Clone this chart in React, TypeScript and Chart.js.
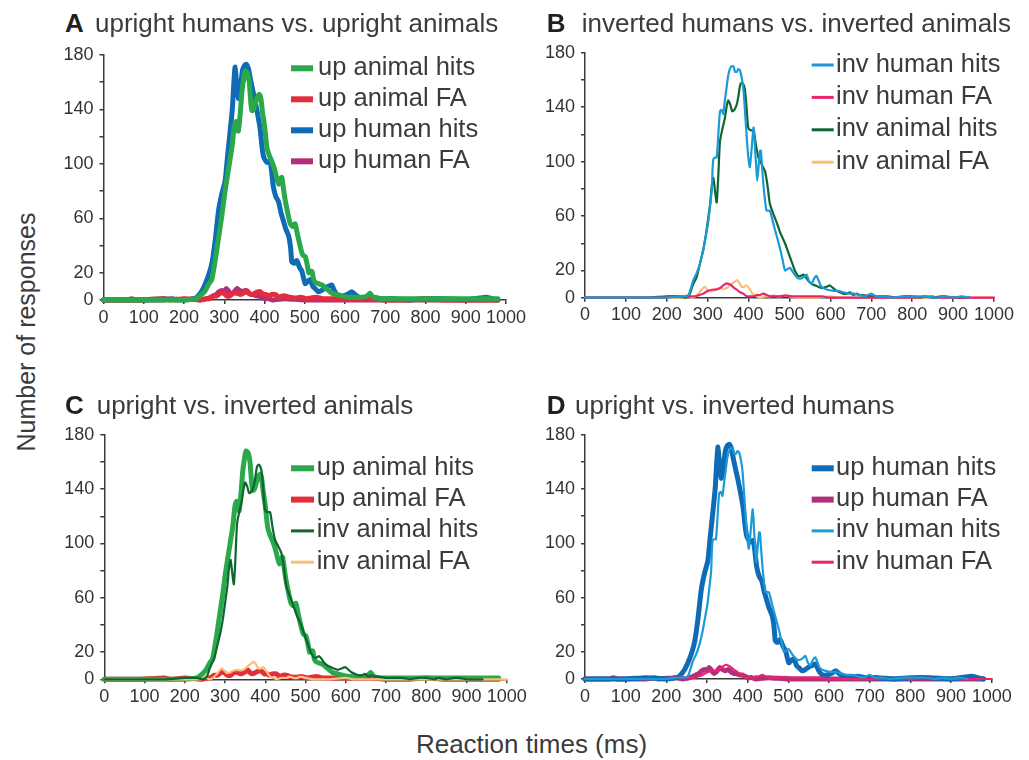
import React, { useEffect, useRef } from "react";
import { Chart, registerables } from "chart.js";

Chart.register(...registerables);

const FONT = '"Liberation Sans", Arial, Helvetica, sans-serif';

// ---------- data (reaction time in ms, number of responses) ----------
const upAnimalHitsT = [0, 100, 200, 230, 240, 253, 262, 269, 278, 286, 294, 302, 310, 319, 325, 329, 335, 340, 344, 348, 352, 357, 362, 366, 369, 373, 377, 382, 387, 391, 395, 400, 406, 412, 418, 424, 430, 435, 440, 443, 447, 451, 457, 464, 470, 476, 482, 489, 495, 501, 506, 510, 514, 518, 522, 526, 534, 543, 551, 559, 567, 580, 592, 610, 630, 642, 655, 662, 670, 690, 720, 760, 800, 850, 900, 950, 980];
const upAnimalHitsY = [0, 0, 0, 1, 3, 7, 12, 15, 30, 46, 62, 80, 95, 112, 128, 131, 124, 138, 153, 162, 168, 167, 160, 145, 139, 140, 144, 149, 151, 148, 138, 128, 112, 106, 102, 97, 90, 85, 89, 90, 82, 74, 65, 56, 54, 56, 48, 39, 33, 32, 26, 20, 21, 21, 15, 13, 12, 11, 9, 7, 5, 4, 3, 2, 2, 2, 3, 5, 2, 1, 1, 1, 1, 1, 1, 1, 1];

const upAnimalFAT = [0, 80, 150, 165, 200, 240, 255, 264, 272, 281, 290, 298, 306, 314, 322, 331, 340, 348, 356, 362, 368, 376, 383, 390, 398, 405, 410, 418, 427, 436, 445, 452, 462, 477, 490, 505, 527, 545, 570, 600, 630, 660, 700, 750, 800, 850, 900, 980];
const upAnimalFAY = [0, 0, 1, 0, 1, 0, 1, 1, 3, 3, 5, 5, 3, 3, 5, 5, 4, 5, 7, 5, 4, 5, 6, 6, 4, 4, 3, 4, 4, 2, 3, 3, 2, 1.5, 2, 1, 2, 1, 1, 1, 1, 1, 0, 0, 1, 0, 0, 0];

const upHumanHitsT = [0, 100, 150, 200, 225, 235, 245, 253, 262, 270, 278, 286, 294, 302, 308, 314, 320, 324, 327, 331, 335, 340, 345, 350, 355, 360, 365, 370, 376, 382, 389, 394, 398, 406, 414, 422, 428, 435, 441, 447, 453, 460, 465, 468, 474, 480, 487, 493, 501, 508, 514, 520, 527, 534, 542, 551, 559, 567, 575, 584, 595, 605, 617, 625, 635, 650, 670, 690, 720, 760, 800, 850, 900, 950, 965, 980];
const upHumanHitsY = [0, 0, 1, 0, 1, 3, 7, 12, 19, 28, 45, 66, 78, 87, 105, 122, 140, 160, 171, 158, 148, 155, 168, 172, 173, 170, 162, 155, 147, 138, 126, 112, 105, 101, 102, 83, 76, 72, 64, 58, 52, 47, 38, 28, 27, 29, 24, 21, 12, 14, 15, 10, 8, 6, 7, 9, 10, 11, 6, 3, 3, 4, 6, 4, 2, 1, 2, 1, 1, 0, 1, 1, 0, 2, 1, 0];

const upHumanFAT = [0, 60, 70, 80, 150, 170, 180, 225, 240, 258, 266, 273, 280, 287, 294, 300, 305, 312, 317, 325, 332, 338, 345, 352, 360, 367, 373, 380, 387, 393, 400, 410, 420, 450, 500, 980];
const upHumanFAY = [0, 0, 1, 0, 0, 1, 0, 1, 0, 1, 2, 3, 4, 6, 7, 6, 8.5, 6, 4, 6, 8.5, 7, 6, 7, 5, 4, 4, 3, 3, 2, 1, 1, 0, 1, 0, 0];

const invHumanHitsT = [0, 200, 230, 245, 253, 260, 265, 273, 281, 289, 295, 301, 306, 310, 312, 314, 318, 322, 326, 330, 334, 338, 342, 346, 350, 354, 358, 363, 367, 371, 375, 379, 383, 387, 391, 395, 399, 403, 407, 412, 414, 416, 419, 421, 424, 428, 430, 433, 436, 440, 444, 452, 460, 469, 477, 483, 489, 495, 501, 510, 518, 526, 534, 542, 548, 554, 560, 566, 572, 578, 591, 607, 620, 631, 645, 656, 670, 685, 700, 712, 730, 750, 780, 800, 830, 860, 880, 900, 920, 940];
const invHumanHitsY = [0, 0, 1, 1, 2, 8, 13, 18, 25, 35, 45, 55, 68, 79, 95, 102, 103, 103, 120, 137, 138, 135, 145, 154, 163, 168, 170, 170, 166, 166, 168, 167, 162, 154, 138, 120, 104, 96, 108, 125, 120, 108, 95, 86, 95, 108, 108, 96, 84, 72, 64, 64, 55, 45, 36, 28, 20, 21, 22, 18, 15, 14, 15, 17, 12, 10, 14, 16, 12, 8, 6, 5, 5, 4, 3, 3, 2, 1, 3, 1, 1, 0, 1, 1, 1, 0, 1, 0, 1, 0];

const invHumanFAT = [0, 200, 208, 230, 250, 270, 280, 289, 300, 314, 322, 330, 338, 346, 352, 358, 365, 371, 379, 387, 395, 403, 412, 420, 428, 436, 444, 452, 460, 470, 493, 510, 530, 560, 580, 600, 700, 800, 850, 860, 1000];
const invHumanFAY = [0, 0, 1, 1, 1, 1, 2, 3, 5, 6, 6, 7, 9, 10.5, 10, 9, 7, 6, 4, 3, 1, 1, 1, 2, 2, 3, 2, 1, 1, 1, 1.5, 1, 1, 1, 1, 0, 0, 0, 1, 0, 0];

const invAnimalHitsT = [0, 150, 200, 230, 245, 255, 262, 268, 273, 281, 289, 295, 301, 306, 310, 314, 318, 322, 326, 330, 336, 342, 346, 350, 355, 360, 365, 371, 375, 379, 383, 387, 391, 395, 399, 405, 412, 418, 424, 432, 440, 446, 452, 460, 469, 477, 483, 489, 495, 501, 507, 513, 521, 527, 534, 540, 547, 555, 563, 571, 580, 590, 599, 607, 615, 623, 631, 640, 648, 656, 664, 672, 680, 700, 720, 740, 760, 780, 800, 820, 830, 850, 870, 880, 900, 940];
const invAnimalHitsY = [0, 0, 1, 1, 0, 2, 8, 12, 15, 25, 35, 45, 58, 69, 82, 88, 78, 70, 90, 115, 124, 132, 140, 145, 142, 137, 138, 142, 148, 156, 158, 157, 153, 140, 125, 123, 123, 112, 103, 98, 93, 83, 69, 62, 55, 48, 44, 40, 35, 30, 25, 20, 16, 16, 17, 15, 12, 10, 9, 8, 7, 8, 9, 7, 5, 4, 3, 3, 4, 2, 3, 2, 2, 1, 1, 1, 0, 1, 1, 0, 1, 0, 1, 1, 0, 0];

const invAnimalFAT = [0, 200, 240, 249, 255, 261, 270, 280, 288, 293, 299, 305, 312, 322, 330, 338, 346, 354, 362, 367, 371, 377, 383, 389, 395, 401, 407, 412, 420, 428, 440, 452, 460, 470, 480, 488, 500, 520, 560, 600, 620, 1000];
const invAnimalFAY = [0, 0, 0, 2, 1, 0, 1, 4, 7, 8, 6, 4.5, 5, 6.5, 7, 6.5, 7, 9, 11, 12, 13, 11, 8, 8, 9, 7, 4, 2, 1, 0, 1, 1, 2, 1, 1, 2, 1, 0, 0, 1, 0, 0];

// ---------- axes ----------
const xMin = 0;
const xMax = 1000;
const xStep = 100;
const yMin = 0;
const yMax = 180;
const yStep = 20;
const yTickLabels = [0, 20, 60, 100, 140, 180];

// ---------- series styles ----------
type Series = { label: string; t: number[]; y: number[]; color: string; width: number; legendWidth: number };
const SERIES: Record<string, Series> = {
  upAnimalHits: { label: "up animal hits", t: upAnimalHitsT, y: upAnimalHitsY, color: "#2ba84a", width: 5, legendWidth: 6 },
  upAnimalFA: { label: "up animal FA", t: upAnimalFAT, y: upAnimalFAY, color: "#e42d3c", width: 5, legendWidth: 6 },
  upHumanHits: { label: "up human hits", t: upHumanHitsT, y: upHumanHitsY, color: "#0f6bb5", width: 5, legendWidth: 6 },
  upHumanFA: { label: "up human FA", t: upHumanFAT, y: upHumanFAY, color: "#b22f79", width: 5, legendWidth: 6 },
  invHumanHits: { label: "inv human hits", t: invHumanHitsT, y: invHumanHitsY, color: "#1b9ad6", width: 2.2, legendWidth: 3 },
  invHumanFA: { label: "inv human FA", t: invHumanFAT, y: invHumanFAY, color: "#e8246f", width: 2.2, legendWidth: 3 },
  invAnimalHits: { label: "inv animal hits", t: invAnimalHitsT, y: invAnimalHitsY, color: "#0d6630", width: 2.2, legendWidth: 3 },
  invAnimalFA: { label: "inv animal FA", t: invAnimalFAT, y: invAnimalFAY, color: "#fbc076", width: 2.2, legendWidth: 3 },
};

type Panel = {
  letter: string;
  title: string;
  series: string[];
  area: { l: number; t: number; r: number; b: number };
  canvas: { x: number; y: number; w: number; h: number };
  legend: { sx: number; sw: number; tx: number; y0: number; dy: number };
  titleLetterX: number;
  titleTextX: number;
  titleBaseline: number;
};

const PANELS: Panel[] = [
  {
    letter: "A",
    title: "upright humans vs. upright animals",
    series: ["upAnimalHits", "upAnimalFA", "upHumanHits", "upHumanFA"],
    area: { l: 103.5, t: 53.3, r: 506, b: 300 },
    canvas: { x: 40, y: 38, w: 495, h: 300 },
    legend: { sx: 291, sw: 22, tx: 318, y0: 68.3, dy: 31 },
    titleLetterX: 65,
    titleTextX: 95,
    titleBaseline: 32.3,
  },
  {
    letter: "B",
    title: "inverted humans vs. inverted animals",
    series: ["invHumanHits", "invHumanFA", "invAnimalHits", "invAnimalFA"],
    area: { l: 585, t: 51.7, r: 994, b: 297.7 },
    canvas: { x: 535, y: 36, w: 494, h: 300 },
    legend: { sx: 811.7, sw: 22, tx: 836, y0: 65, dy: 32.4 },
    titleLetterX: 546.7,
    titleTextX: 581.7,
    titleBaseline: 31.7,
  },
  {
    letter: "C",
    title: "upright vs. inverted animals",
    series: ["upAnimalHits", "upAnimalFA", "invAnimalHits", "invAnimalFA"],
    area: { l: 104.3, t: 433.3, r: 506.7, b: 679.3 },
    canvas: { x: 40, y: 418, w: 495, h: 300 },
    legend: { sx: 291, sw: 23, tx: 316.7, y0: 468.3, dy: 31.3 },
    titleLetterX: 65,
    titleTextX: 96.7,
    titleBaseline: 414.3,
  },
  {
    letter: "D",
    title: "upright vs. inverted humans",
    series: ["upHumanHits", "upHumanFA", "invHumanHits", "invHumanFA"],
    area: { l: 585, t: 433.3, r: 991.7, b: 679 },
    canvas: { x: 535, y: 418, w: 494, h: 300 },
    legend: { sx: 811.7, sw: 22, tx: 836, y0: 468.3, dy: 31.3 },
    titleLetterX: 546.7,
    titleTextX: 575,
    titleBaseline: 414.3,
  },
];

const TEXT_COLOR = "#3b3b3b";
const AXIS_COLOR = "#3a3a3a";

const legendPlugin = {
  id: "panelLegend",
  afterDatasetsDraw(chart: any, _args: any, opts: any) {
    const ctx = chart.ctx as CanvasRenderingContext2D;
    ctx.save();
    chart.data.datasets.forEach((ds: any, i: number) => {
      const y = opts.y0 + i * opts.dy;
      ctx.fillStyle = ds.borderColor;
      ctx.fillRect(opts.sx, y - ds.legendWidth / 2, opts.sw, ds.legendWidth);
      ctx.fillStyle = TEXT_COLOR;
      ctx.font = `25.5px ${FONT}`;
      ctx.textBaseline = "alphabetic";
      ctx.textAlign = "left";
      ctx.fillText(ds.label, opts.tx, y + 6.5);
    });
    ctx.restore();
  },
};

function PanelChart({ panel }: { panel: Panel }) {
  const ref = useRef<HTMLCanvasElement>(null);
  const c = panel.canvas;
  useEffect(() => {
    const a = panel.area;
    const datasets = panel.series.map((key) => {
      const s = SERIES[key];
      return {
        label: s.label,
        data: s.t.map((x, j) => ({ x, y: s.y[j] })),
        borderColor: s.color,
        backgroundColor: s.color,
        borderWidth: s.width,
        pointRadius: 0,
        tension: 0.2,
        fill: false,
        clip: false as any,
        order: s.width > 3 ? 1 : 0,
        borderJoinStyle: "round",
        borderCapStyle: "round",
        legendWidth: s.legendWidth,
      } as any;
    });
    const tickFont = { family: FONT, size: 18 };
    const chart = new Chart(ref.current as HTMLCanvasElement, {
      type: "line",
      data: { datasets },
      options: {
        animation: false,
        responsive: false,
        events: [],
        layout: { padding: { left: 0, top: a.t - c.y, right: c.x + c.w - a.r, bottom: 0 } },
        plugins: {
          legend: { display: false },
          tooltip: { enabled: false },
          panelLegend: {
            sx: panel.legend.sx - c.x,
            sw: panel.legend.sw,
            tx: panel.legend.tx - c.x,
            y0: panel.legend.y0 - c.y,
            dy: panel.legend.dy,
          },
        } as any,
        scales: {
          x: {
            type: "linear",
            min: xMin,
            max: xMax,
            ticks: {
              stepSize: xStep,
              color: "#333",
              font: tickFont,
              padding: 3,
              maxRotation: 0,
              autoSkip: false,
              callback: (v: any) => String(v),
            },
            grid: { display: true, drawOnChartArea: false, drawTicks: true, tickLength: 4, color: AXIS_COLOR, lineWidth: 1.5 },
            border: { display: true, color: AXIS_COLOR, width: 1.5 },
            afterFit: (s: any) => {
              s.height = c.y + c.h - a.b;
            },
          },
          y: {
            type: "linear",
            min: yMin,
            max: yMax,
            ticks: {
              stepSize: yStep,
              color: "#333",
              font: tickFont,
              padding: 6,
              autoSkip: false,
              callback: (v: any) => (yTickLabels.includes(Number(v)) ? String(v) : ""),
            },
            grid: { display: true, drawOnChartArea: false, drawTicks: true, tickLength: 4, color: AXIS_COLOR, lineWidth: 1.5 },
            border: { display: true, color: AXIS_COLOR, width: 1.5 },
            afterFit: (s: any) => {
              s.width = a.l - c.x;
            },
          },
        },
      } as any,
      plugins: [legendPlugin as any],
    });
    return () => chart.destroy();
  }, []);
  return (
    <canvas
      ref={ref}
      width={c.w}
      height={c.h}
      style={{ position: "absolute", left: c.x, top: c.y, width: c.w, height: c.h }}
    />
  );
}

export default function App() {
  return (
    <div
      style={{
        position: "absolute",
        left: 0,
        top: 0,
        width: 1029,
        height: 760,
        background: "#fff",
        fontFamily: FONT,
        overflow: "hidden",
      }}
    >
      {PANELS.map((p) => (
        <PanelChart key={p.letter} panel={p} />
      ))}
      {PANELS.map((p) => (
        <React.Fragment key={"t" + p.letter}>
          <div
            style={{
              position: "absolute",
              left: p.titleLetterX,
              top: p.titleBaseline - 22,
              fontSize: 26,
              lineHeight: "26px",
              fontWeight: "bold",
              color: "#231f20",
              whiteSpace: "nowrap",
            }}
          >
            {p.letter}
          </div>
          <div
            style={{
              position: "absolute",
              left: p.titleTextX,
              top: p.titleBaseline - 22,
              fontSize: 26,
              lineHeight: "26px",
              color: TEXT_COLOR,
              whiteSpace: "nowrap",
            }}
          >
            {p.title}
          </div>
        </React.Fragment>
      ))}
      <div
        style={{
          position: "absolute",
          left: 26 - 160,
          top: 332 - 13,
          width: 320,
          height: 26,
          lineHeight: "26px",
          fontSize: 25,
          textAlign: "center",
          color: TEXT_COLOR,
          transform: "rotate(-90deg)",
          whiteSpace: "nowrap",
        }}
      >
        Number of responses
      </div>
      <div
        style={{
          position: "absolute",
          left: 531.5 - 200,
          top: 731,
          width: 400,
          height: 26,
          lineHeight: "26px",
          fontSize: 26,
          textAlign: "center",
          color: TEXT_COLOR,
          whiteSpace: "nowrap",
        }}
      >
        Reaction times (ms)
      </div>
    </div>
  );
}
